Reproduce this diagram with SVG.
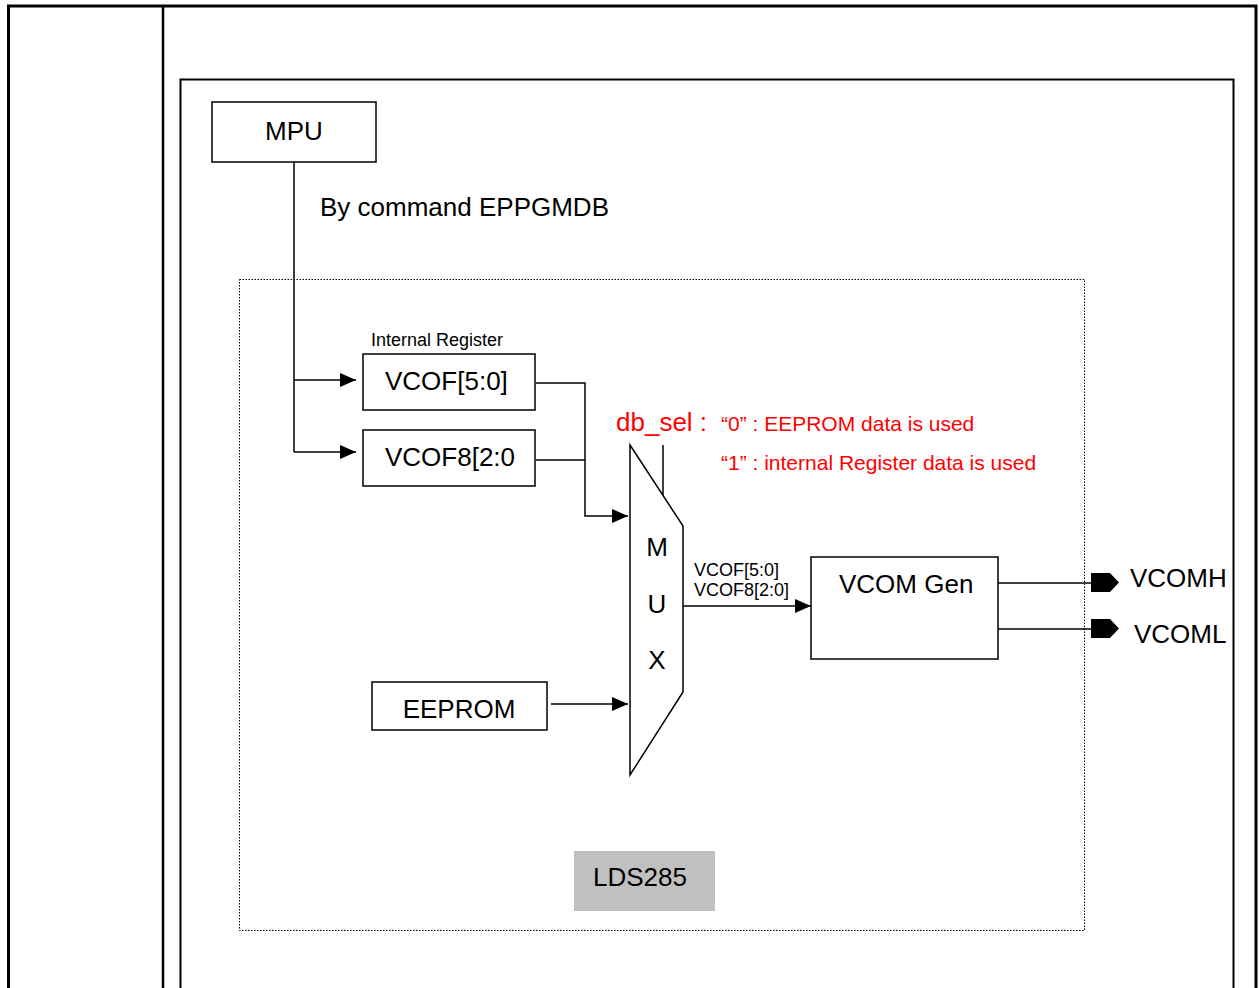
<svg xmlns="http://www.w3.org/2000/svg" width="1259" height="988" viewBox="0 0 1259 988">
<style>
text{font-family:"Liberation Sans",Arial,sans-serif;fill:#000}
.box{fill:#fff;stroke:#000;stroke-width:1.5}
.ln{fill:none;stroke:#000;stroke-width:1.5}
.red{fill:#ff0000}
.c{text-anchor:middle}
.big{font-size:26px}
</style>
<defs>
<marker id="ah2" markerWidth="16" markerHeight="14" refX="16" refY="7" orient="auto" markerUnits="userSpaceOnUse">
<path d="M0,0 L16,7 L0,14 Z" fill="#000"/>
</marker>
</defs>
<rect width="1259" height="988" fill="#fff"/>
<g id="frame">
<path d="M8.5,988 V6 H1256 V988" fill="none" stroke="#000" stroke-width="3"/>
<line x1="163" y1="6" x2="163" y2="988" stroke="#000" stroke-width="2.5"/>
<path d="M180.5,988 V79.5 H1233.5 V988" fill="none" stroke="#000" stroke-width="2"/>
</g>
<g id="chip">
<rect x="239.5" y="279.5" width="845" height="651" fill="none" stroke="#000" stroke-width="1" stroke-dasharray="1.5,1.5"/>
</g>
<g id="connectors">
<path class="ln" d="M294,162 V452"/>
<line class="ln" x1="294" y1="380" x2="356" y2="380" marker-end="url(#ah2)"/>
<line class="ln" x1="294" y1="452" x2="356" y2="452" marker-end="url(#ah2)"/>
<path class="ln" d="M536,383 H585 V516 H628" marker-end="url(#ah2)"/>
<path class="ln" d="M536,460 H585"/>
<line class="ln" x1="551" y1="704" x2="628" y2="704" marker-end="url(#ah2)"/>
<line class="ln" x1="683" y1="606" x2="811" y2="606" marker-end="url(#ah2)"/>
<line class="ln" x1="663" y1="445" x2="663" y2="497"/>
<line class="ln" x1="998" y1="583" x2="1092" y2="583"/>
<line class="ln" x1="998" y1="629" x2="1092" y2="629"/>
</g>
<g id="mpu">
<rect class="box" x="212" y="102" width="164" height="60"/>
<text class="c big" x="294" y="140">MPU</text>
</g>
<g id="cmd-label">
<text class="big" x="320" y="216">By command EPPGMDB</text>
</g>
<g id="vcof">
<text x="371" y="346" font-size="18">Internal Register</text>
<rect class="box" x="363" y="354" width="172" height="56"/>
<text class="big" x="385" y="390">VCOF[5:0]</text>
</g>
<g id="vcof8">
<rect class="box" x="363" y="430" width="172" height="56"/>
<text class="big" x="385" y="466">VCOF8[2:0</text>
</g>
<g id="eeprom">
<rect class="box" x="372" y="682" width="175" height="48"/>
<text class="c big" x="459" y="718">EEPROM</text>
</g>
<g id="mux">
<path class="box" d="M630,445 L683,526 V692 L630,775 Z"/>
<text class="c big" x="657" y="556">M</text>
<text class="c big" x="657" y="613">U</text>
<text class="c big" x="657" y="669">X</text>
</g>
<g id="dbsel">
<text class="red big" x="616" y="431">db_sel :</text>
<text class="red" x="721" y="431" font-size="21">“0” : EEPROM data is used</text>
<text class="red" x="721" y="470" font-size="21">“1” : internal Register data is used</text>
</g>
<g id="bus-label">
<text x="694" y="576" font-size="18">VCOF[5:0]</text>
<text x="694" y="596" font-size="18">VCOF8[2:0]</text>
</g>
<g id="vcomgen">
<rect class="box" x="811" y="557" width="187" height="102"/>
<text class="big" x="839" y="593">VCOM Gen</text>
</g>
<g id="vcomh">
<path d="M1091,573 H1110 L1119,582.5 L1110,592 H1091 Z" fill="#000"/>
<text class="big" x="1130" y="587">VCOMH</text>
</g>
<g id="vcoml">
<path d="M1091,619 H1110 L1119,628.5 L1110,638 H1091 Z" fill="#000"/>
<text class="big" x="1134" y="643">VCOML</text>
</g>
<g id="lds285">
<rect x="574" y="851" width="141" height="60" fill="#c0c0c0"/>
<text class="big" x="593" y="886">LDS285</text>
</g>
</svg>
